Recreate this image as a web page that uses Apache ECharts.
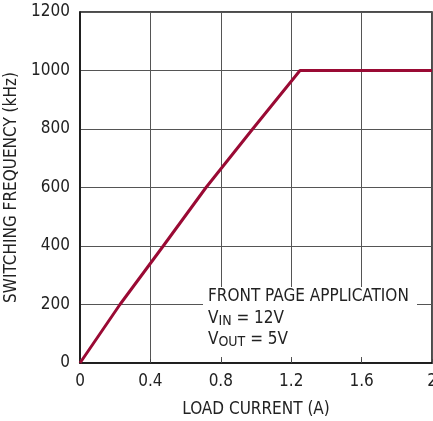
<!DOCTYPE html>
<html><head><meta charset="utf-8">
<script src="https://cdn.jsdelivr.net/npm/echarts@6/dist/echarts.min.js"></script>
<style>html,body{margin:0;padding:0;background:#fff}#c{width:433px;height:421px}</style>
</head><body><div id="c"></div>
<script>
var loadCurrent = [0, 0.227, 0.473, 0.716, 0.981, 1.25, 2.0];
var frequency = [0, 200, 400, 600, 800, 1000, 1000];
var xTicks = [0, 0.4, 0.8, 1.2, 1.6, 2];
var yTicks = [0, 200, 400, 600, 800, 1000, 1200];
var FONT = '"Liberation Sans Narrow","DejaVu Sans Condensed","Liberation Sans",sans-serif';
var chart = echarts.init(document.getElementById('c'));
chart.setOption({
  animation: false,
  grid: {left: 80, right: 1, top: 12, bottom: 58, show: true, borderColor: '#111', borderWidth: 1.5, backgroundColor: 'transparent', containLabel: false, outerBoundsMode: 'none'},
  xAxis: {
    type: 'value', min: 0, max: 2, interval: 0.4,
    name: 'LOAD CURRENT (A)', nameLocation: 'middle', nameGap: 38,
    nameTextStyle: {fontFamily: FONT, fontSize: 17, color: '#222'},
    axisLine: {lineStyle: {color: '#111', width: 1.5}},
    axisTick: {show: true, inside: true, length: 4, lineStyle: {color: '#444'}},
    axisLabel: {fontFamily: FONT, fontSize: 17, color: '#222', margin: 10,
      formatter: function(v){ var r = Math.round(v*10)/10; return xTicks.indexOf(r) >= 0 ? String(r) : ''; }},
    splitLine: {show: true, lineStyle: {color: '#555', width: 1}}
  },
  yAxis: {
    type: 'value', min: 0, max: 1200, interval: 200,
    name: 'SWITCHING FREQUENCY (kHz)', nameLocation: 'middle', nameGap: 57,
    nameTextStyle: {fontFamily: FONT, fontSize: 17, color: '#222'},
    axisLine: {lineStyle: {color: '#111', width: 1.5}},
    axisTick: {show: false},
    axisLabel: {fontFamily: FONT, fontSize: 17, color: '#222', margin: 10,
      formatter: function(v){ return yTicks.indexOf(v) >= 0 ? String(v) : ''; }},
    splitLine: {show: true, lineStyle: {color: '#555', width: 1}}
  },
  series: [{
    type: 'line', data: loadCurrent.map(function(x,i){return [x, frequency[i]];}),
    symbol: 'none', lineStyle: {color: '#9a0a34', width: 3}, z: 3
  }],
  graphic: [
    {type: 'rect', shape: {x: 203, y: 287, width: 214, height: 70}, style: {fill: '#fff'}, z: 10},
    {type: 'text', left: 208, top: 288, z: 11, style: {text: 'FRONT PAGE APPLICATION', font: '17px ' + FONT, fill: '#222'}},
    {type: 'text', left: 208, top: 310, z: 11, style: {
      text: '{n|V}{s|IN}{n| = 12V}', rich: {n: {font: '17px ' + FONT, fill: '#222'}, s: {font: '14px ' + FONT, fill: '#222', verticalAlign: 'bottom', padding: [6,0,0,0]}}}},
    {type: 'text', left: 208, top: 331, z: 11, style: {
      text: '{n|V}{s|OUT}{n| = 5V}', rich: {n: {font: '17px ' + FONT, fill: '#222'}, s: {font: '14px ' + FONT, fill: '#222', verticalAlign: 'bottom', padding: [6,0,0,0]}}}}
  ]
});
</script></body></html>
